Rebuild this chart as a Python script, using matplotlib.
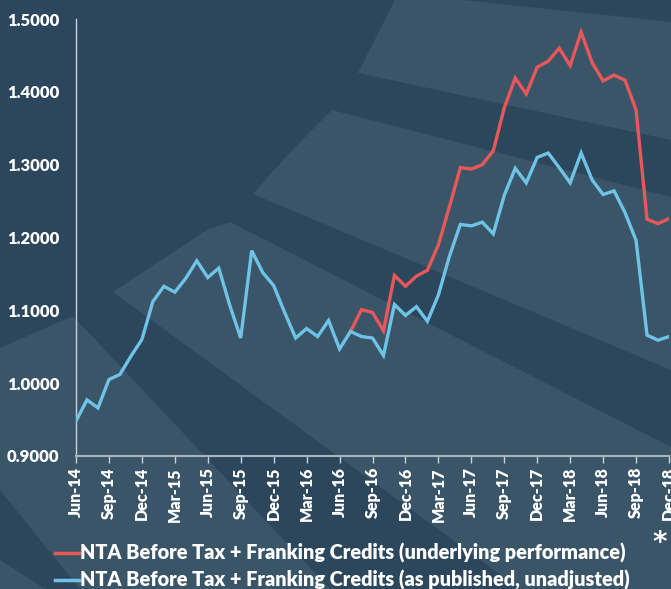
import matplotlib
matplotlib.use("Agg")
import matplotlib.pyplot as plt
from matplotlib.patches import Polygon

# monthly NTA series, Jun-14 .. Dec-18
months = ["Jun-14", "Jul-14", "Aug-14", "Sep-14", "Oct-14", "Nov-14", "Dec-14",
          "Jan-15", "Feb-15", "Mar-15", "Apr-15", "May-15", "Jun-15", "Jul-15",
          "Aug-15", "Sep-15", "Oct-15", "Nov-15", "Dec-15", "Jan-16", "Feb-16",
          "Mar-16", "Apr-16", "May-16", "Jun-16", "Jul-16", "Aug-16", "Sep-16",
          "Oct-16", "Nov-16", "Dec-16", "Jan-17", "Feb-17", "Mar-17", "Apr-17",
          "May-17", "Jun-17", "Jul-17", "Aug-17", "Sep-17", "Oct-17", "Nov-17",
          "Dec-17", "Jan-18", "Feb-18", "Mar-18", "Apr-18", "May-18", "Jun-18",
          "Jul-18", "Aug-18", "Sep-18", "Oct-18", "Nov-18", "Dec-18"]

published = [0.948, 0.977, 0.966, 1.005, 1.012, 1.037, 1.060, 1.112, 1.133, 1.125,
             1.144, 1.168, 1.145, 1.158, 1.107, 1.062, 1.182, 1.152, 1.134, 1.097,
             1.062, 1.075, 1.064, 1.086, 1.047, 1.071, 1.064, 1.062, 1.038, 1.108,
             1.093, 1.105, 1.085, 1.121, 1.174, 1.218, 1.216, 1.221, 1.205, 1.258,
             1.295, 1.275, 1.310, 1.316, 1.296, 1.275, 1.316, 1.279, 1.259, 1.264,
             1.234, 1.196, 1.066, 1.059, 1.064]

# underlying performance only splits off from Jul-16
underlying_start = "Jul-16"
underlying = [1.071, 1.101, 1.097, 1.072, 1.148, 1.133, 1.147, 1.155, 1.190, 1.242,
              1.296, 1.294, 1.300, 1.319, 1.378, 1.419, 1.397, 1.434, 1.442, 1.460,
              1.436, 1.482, 1.440, 1.415, 1.423, 1.416, 1.375, 1.225, 1.219, 1.226]

tick_labels = months[::3]
y_ticks = [0.9, 1.0, 1.1, 1.2, 1.3, 1.4, 1.5]

label_red = "NTA Before Tax + Franking Credits (underlying performance)"
label_blue = "NTA Before Tax + Franking Credits (as published, unadjusted)"

DARK = "#2c475c"
LIGHT = "#3a5568"
RED = "#e8585a"
BLUE = "#6ec3e6"
FONT = ["Lato", "DejaVu Sans"]
W, H = 671, 589

fig = plt.figure(figsize=(W / 100, H / 100), dpi=100, facecolor=DARK)


def band(pts):
    # pts in pixel coords, y measured from the top
    xy = [(x / W, 1 - y / H) for x, y in pts]
    fig.add_artist(Polygon(xy, closed=True, transform=fig.transFigure,
                           facecolor=LIGHT, edgecolor="none", zorder=-5))


# decorative background stripes
band([(395, 0), (463, 0), (671, 22), (671, 140), (358, 73), (372, 45)])
band([(332, 110), (671, 197), (671, 370), (253, 194), (272, 172), (300, 142)])
band([(113, 292), (207, 230), (230, 222), (671, 447), (671, 589), (520, 589)])
band([(0, 348), (73, 316), (330, 589), (80, 589), (0, 490)])
band([(0, 560), (45, 589), (0, 589)])

ax = fig.add_axes([76 / W, 1 - 456 / H, (669 - 76) / W, (456 - 19) / H])
ax.set_facecolor("none")

x_pub = list(range(len(months)))
i0 = months.index(underlying_start)
x_und = list(range(i0, i0 + len(underlying)))

ax.plot(x_und, underlying, color=RED, lw=2.4, solid_joinstyle="miter", zorder=3)
ax.plot(x_pub, published, color=BLUE, lw=2.4, solid_joinstyle="miter", zorder=4)

ax.set_xlim(0, len(months) - 1)
ax.set_ylim(0.9, 1.5)
ax.set_yticks(y_ticks)
ax.set_yticklabels(["%.4f" % v for v in y_ticks])
ax.set_xticks(x_pub[::3])
ax.set_xticklabels(tick_labels, rotation=90)

for s in ["top", "right"]:
    ax.spines[s].set_visible(False)
ax.spines["left"].set_color("#c9d1d8")
ax.spines["bottom"].set_color("#aab4bd")
ax.spines["left"].set_linewidth(1.0)
ax.spines["bottom"].set_linewidth(1.5)

ax.tick_params(axis="y", length=0, pad=12, labelcolor="white", labelsize=12)
ax.tick_params(axis="x", length=5, width=1, color="#c9d1d8", pad=3,
               labelcolor="white", labelsize=11.5)
for t in ax.get_xticklabels() + ax.get_yticklabels():
    t.set_fontfamily(FONT)
    t.set_fontweight("heavy")

# legend drawn by hand so the short markers sit flush with the text
for yy, col, lab in [(553, RED, label_red), (580, BLUE, label_blue)]:
    fig.add_artist(plt.Line2D([55 / W, 79 / W], [1 - yy / H, 1 - yy / H],
                              color=col, lw=2.5, transform=fig.transFigure))
    fig.text(80 / W, 1 - yy / H, lab, color="white", fontsize=14.3,
             fontweight="heavy", family=FONT, va="center", ha="left")

fig.text(660 / W, 1 - 543 / H, "*", color="white", fontsize=20,
         fontweight="bold", ha="center", va="center")

fig.savefig("out.png", dpi=100, facecolor=DARK)
